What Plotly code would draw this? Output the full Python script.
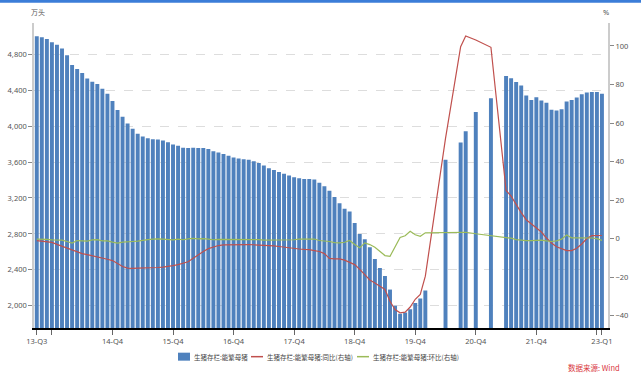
import plotly.graph_objects as go

# month index 0 = 2013-09 ... 112 = 2023-01
months = list(range(113))

# 能繁母猪存栏 (万头); None = no data for that month
sow = [5000, 4990, 4970, 4935, 4905, 4865, 4790, 4680, 4635, 4590,
       4530, 4495, 4470, 4415, 4360, 4280, 4180, 4105, 4030, 3970,
       3915, 3885, 3865, 3855, 3850, 3840, 3820, 3795, 3780, 3760,
       3755, 3760, 3755, 3755, 3745, 3720, 3705, 3690, 3670, 3650,
       3640, 3630, 3625, 3610, 3590, 3560, 3530, 3510, 3490, 3470,
       3450, 3430, 3420, 3410, 3410, 3405, 3370, 3330, 3280, 3210,
       3140, 3080, 3050, 2920, 2800, 2740, 2650, 2520, 2420, 2330,
       2180, 2000, 1910, 1925, 1960, 2030, 2080, 2170, None, None,
       None, 3626, None, None, 3818, 3944, None, 4156, None, None,
       4311, None, None, 4559, 4533, 4492, 4451, 4340, 4292, 4322,
       4285, 4259, 4181, 4173, 4189, 4274, 4292, 4318, 4355, 4373,
       4381, 4381, 4359]

# 同比 (%)
yoy = [-1.0, -1.3, -1.6, -2.0, -3.0, -4.0, -5.0, -6.0, -7.0, -7.8,
       -8.3, -8.8, -9.3, -10.0, -10.7, -11.4, -13.0, -14.5, -15.3, -15.5,
       -15.3, -15.3, -15.2, -15.1, -15.0, -14.8, -14.5, -14.0, -13.5, -12.8,
       -12.0, -10.2, -8.3, -6.7, -5.2, -4.3, -3.6, -3.3, -3.2, -3.1,
       -3.1, -3.1, -3.1, -3.2, -3.3, -3.4, -3.6, -3.8, -4.1, -4.5,
       -4.9, -5.2, -5.4, -5.6, -5.7, -6.2, -6.7, -7.8, -10.3, -10.5,
       -10.5, -11.2, -12.3, -13.5, -16.0, -19.0, -21.5, -23.0, -24.5, -26.4,
       -32.5, -36.8, -38.5, -38.2, -35.5, -31.5, -29.0, -19.5, None, None,
       None, 52.0, None, None, 99.6, 105.2, None, 103.1, None, None,
       99.3, None, None, 25.0, 22.0, 17.6, 13.5, 9.8, 7.8, 5.7,
       3.4, 0.3, -2.3, -4.2, -5.3, -6.2, -6.2, -5.0, -2.8, 0.0,
       1.5, 1.6, 1.6]

# 环比 (%)
mom = [-0.3, -0.2, -0.4, -0.7, -0.6, -0.8, -1.5, -2.3, -1.0, -1.0,
       -1.3, -0.7, -0.5, -1.2, -1.2, -1.8, -2.3, -1.8, -1.8, -1.5,
       -1.3, -0.8, -0.5, -0.3, -0.1, -0.3, -0.5, -0.7, -0.3, -0.6,
       -0.1, 0.1, -0.1, 0.0, -0.3, -0.6, -0.4, -0.4, -0.5, -0.5,
       -0.3, -0.3, -0.2, -0.4, -0.5, -0.8, -0.8, -0.6, -0.6, -0.6,
       -0.6, -0.6, -0.3, -0.3, 0.0, -0.2, -1.0, -1.2, -1.5, -2.1,
       -2.2, -1.9, -1.0, -3.1, -4.8, -2.2, -3.1, -4.5, -6.5, -8.8,
       -9.2, -4.5, 0.6, 1.5, 3.8, 2.0, 1.2, 3.0, None, None,
       None, 3.2, None, None, 3.3, 3.3, None, 2.5, None, None,
       1.6, None, None, 0.5, 0.2, -0.5, -0.8, -1.0, -1.0, -0.8,
       -0.8, -1.2, -1.5, -1.2, -0.3, 1.9, 0.4, 0.4, 0.4, 0.4,
       0.3, 0.0, -0.9]

tick_vals = [0, 3, 15, 27, 39, 51, 63, 75, 87, 99, 111, 112]
tick_text = ["13-Q3", "", "14-Q4", "15-Q4", "16-Q4", "17-Q4", "18-Q4",
             "19-Q4", "20-Q4", "21-Q4", "", "23-Q1"]

names = ["生猪存栏:能繁母猪", "生猪存栏:能繁母猪:同比(右轴)", "生猪存栏:能繁母猪:环比(右轴)"]
colors = ["#4F81BD", "#C0504D", "#9BBB59"]

FONT = "Noto Sans, Noto Sans CJK SC, sans-serif"
CJK = "Noto Sans CJK SC, sans-serif"

# plot area in pixels
PL, PR, PT, PB = 34, 608, 23, 328.3
PW, PH = PR - PL, PB - PT


def px(x):
    return (x - PL) / PW


def py(y):
    return (PB - y) / PH


fig = go.Figure()
fig.add_trace(go.Bar(x=months, y=sow, name=names[0], marker_color=colors[0],
                     marker_line_width=0, width=0.78))
fig.add_trace(go.Scatter(x=months, y=yoy, name=names[1], mode="lines",
                         line=dict(color=colors[1], width=1.2), yaxis="y2",
                         connectgaps=True))
fig.add_trace(go.Scatter(x=months, y=mom, name=names[2], mode="lines",
                         line=dict(color=colors[2], width=1.2), yaxis="y2",
                         connectgaps=True))

fig.update_layout(
    width=641, height=379,
    margin=dict(l=PL, r=641 - PR, t=PT, b=379 - PB, autoexpand=False),
    paper_bgcolor="white", plot_bgcolor="white",
    font=dict(family=FONT, size=7.5, color="#555555"),
    showlegend=False,
    xaxis=dict(range=[-0.55, 113.2], tickmode="array", tickvals=tick_vals,
               ticktext=tick_text, ticks="outside", ticklen=5, tickcolor="#666666",
               showline=True, linecolor="#000000", linewidth=1.5,
               showgrid=False, zeroline=False, automargin=False,
               tickfont=dict(size=7.5, color="#555555")),
    yaxis=dict(range=[1752, 5148], tickmode="array",
               tickvals=[2000, 2400, 2800, 3200, 3600, 4000, 4400, 4800],
               tickformat=",", ticks="outside", ticklen=4, tickcolor="#888888",
               showline=True, linecolor="#cccccc", linewidth=1.5,
               showgrid=True, gridcolor="#dddddd", griddash="dash", gridwidth=1,
               zeroline=False, automargin=False,
               tickfont=dict(size=7.5, color="#555555")),
    yaxis2=dict(range=[-46.4, 111.9], overlaying="y", side="right",
                tickmode="array", tickvals=[-40, -20, 0, 20, 40, 60, 80, 100],
                ticks="outside", ticklen=4, tickcolor="#888888",
                showline=True, linecolor="#cccccc", linewidth=2,
                showgrid=False, zeroline=False, automargin=False,
                tickfont=dict(size=7.5, color="#555555")),
)

# top blue band
fig.add_shape(type="line", xref="paper", yref="paper",
              x0=px(0), x1=px(641), y0=py(1.3), y1=py(1.3),
              line=dict(color="#3B7DD8", width=3))

# manual legend
LY = 357
fig.add_shape(type="rect", xref="paper", yref="paper",
              x0=px(178), x1=px(190), y0=py(361), y1=py(353),
              fillcolor=colors[0], line=dict(width=0))
fig.add_shape(type="line", xref="paper", yref="paper",
              x0=px(251), x1=px(263), y0=py(LY), y1=py(LY),
              line=dict(color=colors[1], width=1.5))
fig.add_shape(type="line", xref="paper", yref="paper",
              x0=px(357), x1=px(369), y0=py(LY), y1=py(LY),
              line=dict(color=colors[2], width=1.5))
for xs, t in [(192, names[0]), (265, names[1]), (371, names[2])]:
    fig.add_annotation(text=t, xref="paper", yref="paper", x=px(xs), y=py(LY),
                       showarrow=False, xanchor="left", yanchor="middle",
                       font=dict(family=CJK, size=6.5, color="#444444"))

fig.add_annotation(text="万头", xref="paper", yref="paper", x=px(38),
                   y=py(12), showarrow=False, xanchor="center", yanchor="middle",
                   font=dict(family=CJK, size=7, color="#555555"))
fig.add_annotation(text="%", xref="paper", yref="paper", x=px(606),
                   y=py(12), showarrow=False, xanchor="center", yanchor="middle",
                   font=dict(size=7.5, color="#555555"))
fig.add_annotation(text="数据来源: Wind", xref="paper", yref="paper", x=px(622),
                   y=py(368), showarrow=False, xanchor="right", yanchor="middle",
                   font=dict(family=CJK, size=7.5, color="#D9363E"))

fig.write_html("out.html", config={"displayModeBar": False},
               post_script="document.body.style.margin='0';document.body.style.overflow='hidden';")
